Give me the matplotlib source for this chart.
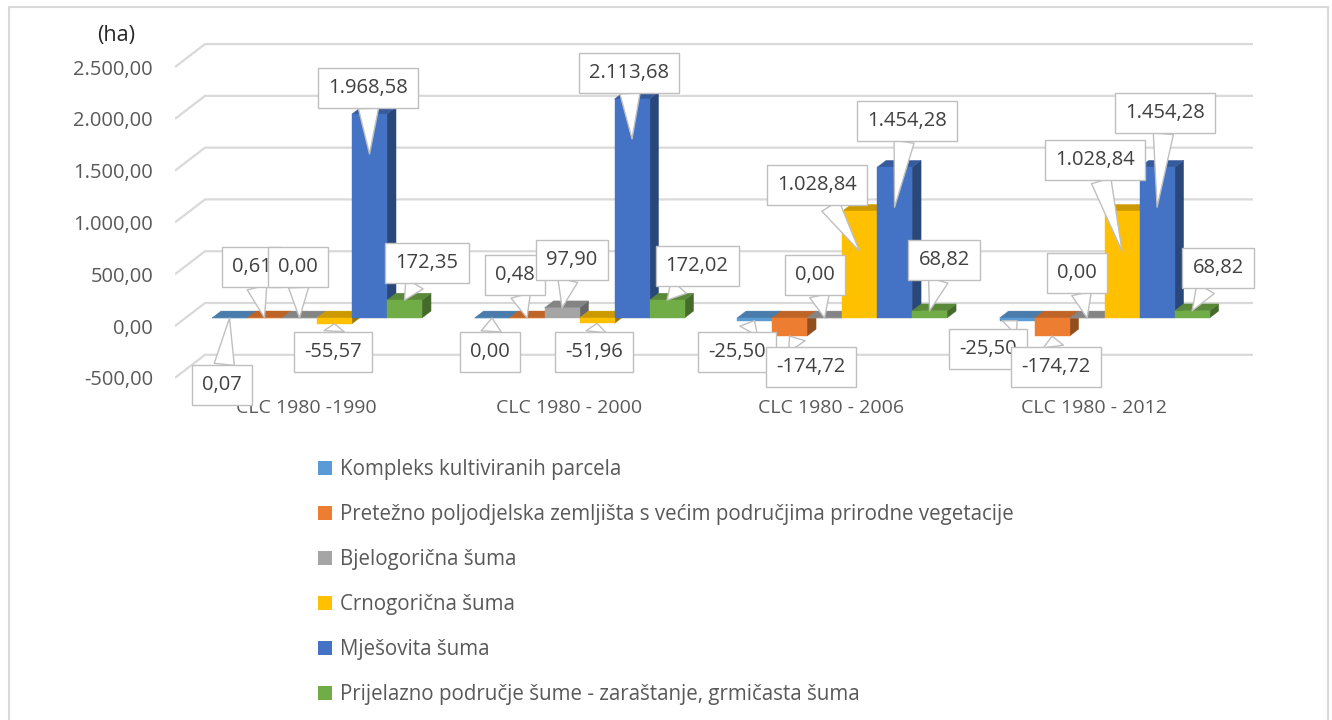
import matplotlib
matplotlib.use('Agg')

import matplotlib.pyplot as plt
from matplotlib.patches import Polygon, Patch, Rectangle
import matplotlib.colors as mcolors

plt.rcParams['font.family'] = ['Open Sans', 'DejaVu Sans']

# ---- data ----
categories = ['CLC 1980 -1990', 'CLC 1980 - 2000', 'CLC 1980 - 2006', 'CLC 1980 - 2012']
series_names = [
    'Kompleks kultiviranih parcela',
    'Pretežno poljodjelska zemljišta s većim područjima prirodne vegetacije',
    'Bjelogorična šuma',
    'Crnogorična šuma',
    'Mješovita šuma',
    'Prijelazno područje šume - zaraštanje, grmičasta šuma',
]
kompleks = [0.07, 0.00, -25.50, -25.50]
pretezno = [0.61, 0.48, -174.72, -174.72]
bjelogoricna = [0.00, 97.90, 0.00, 0.00]
crnogoricna = [-55.57, -51.96, 1028.84, 1028.84]
mjesovita = [1968.58, 2113.68, 1454.28, 1454.28]
prijelazno = [172.35, 172.02, 68.82, 68.82]
y_ticks = [-500, 0, 500, 1000, 1500, 2000, 2500]

series = [kompleks, pretezno, bjelogoricna, crnogoricna, mjesovita, prijelazno]
colors = ['#5B9BD5', '#ED7D31', '#A5A5A5', '#FFC000', '#4472C4', '#70AD47']

# callout box offsets (pixels) from the pointer tip, [series][group]
label_offsets = [
    [(-7.5, -67), (-2, -34), (-17.5, -31), (-29, -28)],
    [(-12.5, 51), (-12, 43), (21.5, -31), (4, -31)],
    [(-1.5, 51), (10, 48), (-9.5, 43), (-10, 45)],
    [(-1.5, -28), (-3, -29), (-42.5, 66), (-27, 91)],
    [(-1.5, 66), (-3, 66), (12.5, 86), (8, 94)],
    [(22.5, 37), (30, 34), (14.5, 51), (26, 43)],
]


def fmt(v):
    s = f"{v:,.2f}"
    return s.replace(',', 'X').replace('.', ',').replace('X', '.')


# ---- pseudo 3D projection ----
DXF = 30 / 35      # depth shift in x (slot units) from front to back wall
DYF = 222          # depth shift in y (ha)
D_FRONT, D_BACK = 0.35, 0.65
GROUP_STEP = 7.5
XL, XR = -0.757, 30.04


def proj(x, v, d):
    return (x + d * DXF, v + d * DYF)


def shade(c, f):
    r, g, b = mcolors.to_rgb(c)
    return (r * f, g * f, b * f)


fig = plt.figure(figsize=(13.32, 7.2), dpi=100)
ax = fig.add_axes([175 / 1332, 0.4465, 1078 / 1332, 0.5251])
ax.set_xlim(XL, XR)
ax.set_ylim(-700, 2950)
for sp in ax.spines.values():
    sp.set_visible(False)

# gridlines on back wall with floor diagonal
for t in y_ticks:
    ax.plot([XL, XL + DXF, XR], [t, t + DYF, t + DYF], color='#D9D9D9', lw=1.6,
            zorder=0.5, solid_capstyle='butt')

# bars
for g in range(len(categories)):
    for s, vals in enumerate(series):
        v = vals[g]
        x0 = g * GROUP_STEP + s
        x1 = x0 + 1
        lo, hi = min(v, 0), max(v, 0)
        c = colors[s]
        front = [proj(x0, lo, D_FRONT), proj(x1, lo, D_FRONT),
                 proj(x1, hi, D_FRONT), proj(x0, hi, D_FRONT)]
        top = [proj(x0, hi, D_FRONT), proj(x1, hi, D_FRONT),
               proj(x1, hi, D_BACK), proj(x0, hi, D_BACK)]
        side = [proj(x1, lo, D_FRONT), proj(x1, lo, D_BACK),
                proj(x1, hi, D_BACK), proj(x1, hi, D_FRONT)]
        for pts, col in [(side, shade(c, 0.62)), (top, shade(c, 0.8)), (front, c)]:
            ax.add_patch(Polygon(pts, closed=True, fc=col, ec=col, lw=0.3, zorder=2))

# callout data labels (series-major order, later on top)
z = 10
for s, vals in enumerate(series):
    for g, v in enumerate(vals):
        xc = g * GROUP_STEP + s + 0.5
        tip_v = v - 385 if v > 800 else v
        X, Y = proj(xc, tip_v, D_FRONT)
        ax.annotate(fmt(v), xy=(X, Y), xytext=label_offsets[s][g],
                    textcoords='offset pixels', ha='center', va='center',
                    fontsize=14.5, color='#404040', zorder=z,
                    bbox=dict(boxstyle='square,pad=0.5', fc='white', ec='#BFBFBF', lw=1),
                    arrowprops=dict(arrowstyle='wedge,tail_width=1.0', fc='white',
                                    ec='#BFBFBF', lw=1, shrinkA=0, shrinkB=0))
        z += 1

ax.set_yticks(y_ticks, labels=[fmt(t) for t in y_ticks])
ax.tick_params(axis='y', length=0, pad=15.8, labelsize=14.5, labelcolor='#595959')
ax.set_xticks([g * GROUP_STEP + 3 for g in range(len(categories))], labels=categories)
ax.tick_params(axis='x', length=0, pad=0, labelsize=14, labelcolor='#595959')

fig.text(116 / 1332, 1 - 36 / 720, '(ha)', ha='center', va='center', fontsize=15.5, color='#262626')

handles = [Patch(facecolor=c, edgecolor='none') for c in colors]
fig.legend(handles, series_names, loc='upper left', bbox_to_anchor=(318 / 1332, 1 - 459 / 720),
           frameon=False, fontsize=14.8, handlelength=0.7, handleheight=0.7,
           handletextpad=0.35, labelspacing=1.17, borderpad=0, borderaxespad=0,
           labelcolor='#595959')

fig.add_artist(Rectangle((9 / 1332, -0.01), (1328 - 9) / 1332, (720 - 7) / 720 + 0.01,
                         transform=fig.transFigure, fill=False, ec='#D9D9D9', lw=1.5))

fig.savefig('out.png', dpi=100)
plt.close(fig)
